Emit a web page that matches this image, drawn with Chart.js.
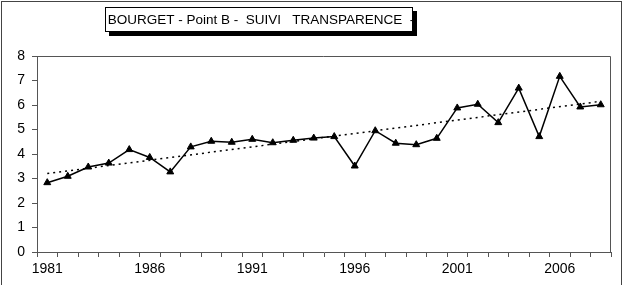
<!DOCTYPE html>
<html>
<head>
<meta charset="utf-8">
<script src="https://cdn.jsdelivr.net/npm/chart.js@4.4.0/dist/chart.umd.min.js"></script>
<style>
    html, body { margin: 0; padding: 0; background: #fff; }
    canvas { display: block; }
</style>
</head>
<body>
<canvas id="myChart" width="626" height="285"></canvas>
<script>
// data
const years = [1981, 1982, 1983, 1984, 1985, 1986, 1987, 1988, 1989, 1990,
    1991, 1992, 1993, 1994, 1995, 1996, 1997, 1998, 1999, 2000,
    2001, 2002, 2003, 2004, 2005, 2006, 2007, 2008]
const transparence = [2.83, 3.09, 3.47, 3.63, 4.18, 3.86, 3.27, 4.29, 4.52, 4.48,
    4.60, 4.46, 4.56, 4.65, 4.71, 3.51, 4.95, 4.44, 4.38, 4.64,
    5.88, 6.03, 5.28, 6.69, 4.71, 7.17, 5.92, 6.01]
// trend line ends (only the two end points are drawn, the rest is spanned)
const trend = [3.20, null, null, null, null, null, null, null, null, null,
    null, null, null, null, null, null, null, null, null, null,
    null, null, null, null, null, null, null, 6.15]
const yTicks = [0, 1, 2, 3, 4, 5, 6, 7, 8]
const titleText = 'BOURGET - Point B -  SUIVI   TRANSPARENCE  -'

const font = {family: 'Arial, "Liberation Sans", sans-serif', size: 14}

// frame round the whole picture + the boxed title with its shadow
const decor = {
    id: 'decor',
    beforeDraw(chart) {
        const c = chart.ctx
        c.save()
        c.fillStyle = '#fff'
        c.fillRect(0, 0, chart.width, chart.height)
        c.strokeStyle = '#444'
        c.lineWidth = 1
        c.strokeRect(1.5, 1.5, 620, 290)
        c.restore()
    },
    afterDraw(chart) {
        const c = chart.ctx
        c.save()
        // shadow
        c.fillStyle = '#000'
        c.fillRect(109, 11, 308, 25)
        c.fillStyle = '#fff'
        c.fillRect(105, 7, 308, 25)
        c.strokeStyle = '#000'
        c.lineWidth = 1
        c.strokeRect(105.5, 7.5, 307, 24)
        c.fillStyle = '#000'
        c.font = '13.5px Arial, "Liberation Sans", sans-serif'
        c.textAlign = 'center'
        c.textBaseline = 'middle'
        c.fillText(titleText, 261, 20)
        c.restore()
    }
}

let ctxEL = document.getElementById('myChart').getContext('2d')
new Chart(ctxEL, {
    type: 'line',
    data: {
        labels: years,
        datasets: [{
            label: 'Transparence',
            data: transparence,
            borderColor: '#000',
            borderWidth: 1.5,
            pointStyle: 'triangle',
            pointRadius: 4,
            pointBackgroundColor: '#000',
            pointBorderColor: '#000',
            pointBorderWidth: 1,
            tension: 0
        }, {
            label: 'Tendance',
            data: trend,
            spanGaps: true,
            borderColor: '#000',
            borderWidth: 1.5,
            borderDash: [2, 4],
            pointRadius: 0,
            tension: 0
        }]
    },
    options: {
        responsive: false,
        animation: false,
        layout: {padding: {top: 56, right: 15, bottom: 0, left: 0}},
        plugins: {
            legend: {display: false},
            tooltip: {enabled: false}
        },
        scales: {
            x: {
                offset: true,
                grid: {offset: true, drawOnChartArea: false, tickLength: 5, color: '#555'},
                border: {color: '#555', width: 1},
                afterFit: scale => { scale.height = 33 },
                ticks: {
                    autoSkip: false,
                    maxRotation: 0,
                    color: '#000',
                    font: font,
                    padding: 4,
                    callback: function (val, i) {
                        return i % 5 === 0 ? String(years[i]) : ''
                    }
                }
            },
            y: {
                min: 0,
                max: 8,
                afterFit: scale => { scale.width = 37 },
                afterBuildTicks: scale => { scale.ticks = yTicks.map(v => ({value: v})) },
                grid: {drawOnChartArea: false, tickLength: 5, color: '#555'},
                border: {color: '#555', width: 1},
                ticks: {color: '#000', font: font, padding: 7}
            }
        }
    },
    plugins: [decor, {
        id: 'plotBorder',
        afterDatasetsDraw(chart) {
            const a = chart.chartArea
            const c = chart.ctx
            c.save()
            c.strokeStyle = '#555'
            c.lineWidth = 1
            c.beginPath()
            c.moveTo(a.left, a.top + 0.5)
            c.lineTo(a.right - 0.5, a.top + 0.5)
            c.lineTo(a.right - 0.5, a.bottom)
            c.stroke()
            c.restore()
        }
    }]
})
</script>
</body>
</html>
